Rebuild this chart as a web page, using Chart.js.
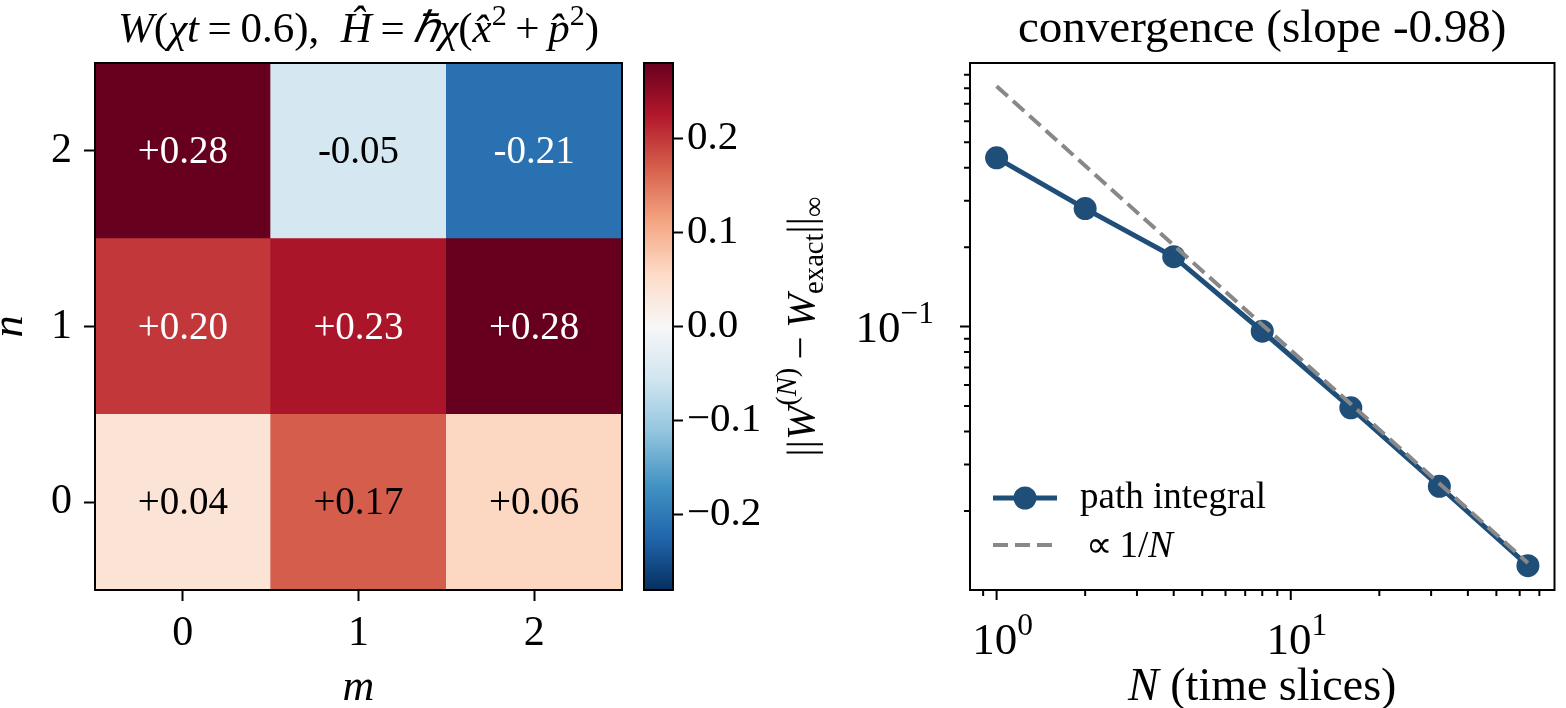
<!DOCTYPE html>
<html>
<head>
<meta charset="utf-8">
<script src="https://cdn.jsdelivr.net/npm/chart.js@4.4.1/dist/chart.umd.min.js"></script>
<style>
  body { margin: 0; background: #fff; width: 1566px; height: 708px; overflow: hidden; position: relative; }
  canvas { position: absolute; top: 0; }
</style>
</head>
<body>
<canvas id="heat" width="640" height="708" style="left:0"></canvas>
<canvas id="cbar" width="150" height="708" style="left:630px"></canvas>
<canvas id="conv" width="806" height="708" style="left:760px"></canvas>
<script>
// Wigner function grid, W[n][m]
const mLabels = ['0', '1', '2'];
const nLabels = [0, 1, 2];
const wRow0 = [0.04, 0.17, 0.06];
const wRow1 = [0.20, 0.23, 0.28];
const wRow2 = [0.28, -0.05, -0.21];
const wRows = [wRow0, wRow1, wRow2];
const vMax = 0.28;
const cbarTicks = [-0.2, -0.1, 0.0, 0.1, 0.2];

// convergence data
const sliceN = [1, 2, 4, 8, 16, 32, 64];
const errInf = [0.436, 0.280, 0.184, 0.0960, 0.0492, 0.0248, 0.0124];
const refN = [1, 64];
const refErr = [0.814, 0.0127];
const xMajor = [1, 10];
const xMinor = [0.9, 2, 3, 4, 5, 6, 7, 8, 9, 20, 30, 40, 50, 60, 70];
const yMajor = [0.1];
const yMinor = [0.02, 0.03, 0.04, 0.05, 0.06, 0.07, 0.08, 0.09, 0.2, 0.3, 0.4, 0.5, 0.6, 0.7, 0.8, 0.9];
const xLim = [0.812, 78.8];
const yLim = [0.01003, 0.998];

const FONT = '"Liberation Serif", serif';
Chart.defaults.font.family = FONT;
Chart.defaults.color = '#000';

// RdBu_r colormap
const RDBU_R = ['#053061', '#2166ac', '#4393c3', '#92c5de', '#d1e5f0', '#f7f7f7',
                '#fddbc7', '#f4a582', '#d6604d', '#b2182b', '#67001f'];
function hexRgb(h) { return [1, 3, 5].map(i => parseInt(h.substr(i, 2), 16)); }
function cmap(v) {
    let t = (v + vMax) / (2 * vMax);
    t = Math.max(0, Math.min(1, t)) * 10;
    const i = Math.min(9, Math.floor(t)), f = t - i;
    const a = hexRgb(RDBU_R[i]), b = hexRgb(RDBU_R[i + 1]);
    const c = a.map((x, k) => Math.round(x + (b[k] - x) * f));
    return `rgb(${c[0]},${c[1]},${c[2]})`;
}

// rich text: [text, italic, scale, rise(em)]
function fontOf(size, italic) { return (italic ? 'italic ' : '') + size + 'px ' + FONT; }
function richWidth(ctx, parts, size) {
    let w = 0;
    parts.forEach(p => { ctx.font = fontOf(size * (p[2] || 1), p[1]); w += ctx.measureText(p[0]).width; });
    return w;
}
function drawRich(ctx, parts, x, y, size, align) {
    const w = richWidth(ctx, parts, size);
    let cx = align === 'center' ? x - w / 2 : align === 'right' ? x - w : x;
    ctx.textAlign = 'left';
    ctx.textBaseline = 'alphabetic';
    parts.forEach(p => {
        ctx.font = fontOf(size * (p[2] || 1), p[1]);
        ctx.fillText(p[0], cx, y - (p[3] || 0) * size);
        cx += ctx.measureText(p[0]).width;
    });
}

// Heatmap
const heatPlugin = {
    id: 'heatText',
    afterDatasetsDraw(chart) {
        const { ctx, chartArea: a, scales: { x, y } } = chart;
        ctx.save();
        ctx.font = fontOf(39, false);
        ctx.textAlign = 'center';
        ctx.textBaseline = 'middle';
        wRows.forEach((row, n) => row.forEach((v, m) => {
            ctx.fillStyle = Math.abs(v) > 0.18 ? '#fff' : '#000';
            const s = (v >= 0 ? '+' : '-') + Math.abs(v).toFixed(2);
            ctx.fillText(s, x.getPixelForValue(m), y.getPixelForValue(n) + 2);
        }));
        ctx.strokeStyle = '#000';
        ctx.lineWidth = 2;
        ctx.strokeRect(a.left, a.top, a.right - a.left, a.bottom - a.top);
        ctx.fillStyle = '#000';
        const cx = (a.left + a.right) / 2;
        drawRich(ctx, [['W', 1], ['(', 0], ['χt', 1], ['\u2009=\u2009', 0], ['0.6),', 0], ['\u2002', 0],
            ['Ĥ', 1], ['\u2009=\u2009', 0], ['ℏχ', 1], ['(', 0], ['x̂', 1], ['2', 0, 0.7, 0.4],
            ['\u2009+\u2009', 0], ['p̂', 1], ['2', 0, 0.7, 0.4], [')', 0]], cx, 42, 43, 'center');
        drawRich(ctx, [['m', 1]], cx, 700, 44, 'center');
        ctx.translate(13, (a.top + a.bottom) / 2);
        ctx.rotate(-Math.PI / 2);
        drawRich(ctx, [['n', 1]], 0, 9, 44, 'center');
        ctx.restore();
    }
};

new Chart(document.getElementById('heat'), {
    type: 'bar',
    data: {
        labels: mLabels,
        datasets: wRows.map((row, n) => ({
            label: 'n = ' + n,
            data: row.map(() => [n - 0.5, n + 0.5]),
            backgroundColor: row.map(cmap),
            borderWidth: 0,
            borderSkipped: false,
            grouped: false,
            barPercentage: 1,
            categoryPercentage: 1
        }))
    },
    options: {
        responsive: false,
        animation: false,
        layout: { padding: { top: 63, right: 18, left: 0, bottom: 0 } },
        plugins: { legend: { display: false }, tooltip: { enabled: false } },
        scales: {
            x: {
                type: 'category',
                offset: true,
                grid: { offset: false, drawOnChartArea: false, tickLength: 11, tickWidth: 2, tickColor: '#000' },
                border: { display: false },
                ticks: { font: { size: 42 }, padding: 8, maxRotation: 0 },
                afterFit: s => { s.height = 118; }
            },
            y: {
                type: 'linear',
                min: -0.5,
                max: 2.5,
                afterBuildTicks: s => { s.ticks = nLabels.map(v => ({ value: v })); },
                grid: { drawOnChartArea: false, tickLength: 11, tickWidth: 2, tickColor: '#000' },
                border: { display: false },
                ticks: { font: { size: 42 }, padding: 12, callback: v => String(v) },
                afterFit: s => { s.width = 95; }
            }
        }
    },
    plugins: [heatPlugin]
});

// Colorbar
const framePlugin = {
    id: 'frame',
    afterDraw(chart) {
        const { ctx, chartArea: a } = chart;
        ctx.save();
        ctx.strokeStyle = '#000';
        ctx.lineWidth = 2;
        ctx.strokeRect(a.left, a.top, a.right - a.left, a.bottom - a.top);
        ctx.restore();
    }
};

new Chart(document.getElementById('cbar'), {
    type: 'bar',
    data: {
        labels: [''],
        datasets: [{
            data: [[-vMax, vMax]],
            backgroundColor: c => {
                const a = c.chart.chartArea;
                if (!a) return RDBU_R[5];
                const g = c.chart.ctx.createLinearGradient(0, a.bottom, 0, a.top);
                RDBU_R.forEach((col, k) => g.addColorStop(k / 10, col));
                return g;
            },
            borderWidth: 0,
            barPercentage: 1,
            categoryPercentage: 1
        }]
    },
    options: {
        responsive: false,
        animation: false,
        layout: { padding: { left: 14, top: 63, bottom: 118, right: 0 } },
        plugins: { legend: { display: false }, tooltip: { enabled: false } },
        scales: {
            x: { display: false },
            y: {
                position: 'right',
                min: -vMax,
                max: vMax,
                afterBuildTicks: s => { s.ticks = cbarTicks.map(v => ({ value: v })); },
                grid: { drawOnChartArea: false, tickLength: 10, tickWidth: 2, tickColor: '#000' },
                border: { display: false },
                ticks: {
                    font: { size: 41 },
                    padding: 4,
                    callback: v => (v < 0 ? '\u2212' : '') + Math.abs(v).toFixed(1)
                },
                afterFit: s => { s.width = 107; }
            }
        }
    },
    plugins: [framePlugin]
});

// Convergence plot
function expLabel(v) {
    const e = Math.round(Math.log10(v));
    return [['10', 0], [(e < 0 ? '\u2212' : '') + Math.abs(e), 0, 0.7, 0.42]];
}
const convPlugin = {
    id: 'convAxes',
    afterDraw(chart) {
        const { ctx, chartArea: a, scales: { x, y } } = chart;
        const ds = chart.data.datasets;
        ctx.save();
        ctx.strokeStyle = '#000';
        ctx.fillStyle = '#000';
        ctx.lineWidth = 2;
        ctx.beginPath();
        xMajor.concat(xMinor).forEach(v => {
            const px = x.getPixelForValue(v);
            if (px < a.left - 1 || px > a.right + 1) return;
            ctx.moveTo(px, a.bottom);
            ctx.lineTo(px, a.bottom + (xMajor.includes(v) ? 10 : 6));
        });
        yMajor.concat(yMinor).forEach(v => {
            const py = y.getPixelForValue(v);
            if (py < a.top - 1 || py > a.bottom + 1) return;
            ctx.moveTo(a.left, py);
            ctx.lineTo(a.left - (yMajor.includes(v) ? 10 : 6), py);
        });
        ctx.stroke();
        ctx.strokeRect(a.left, a.top, a.right - a.left, a.bottom - a.top);

        xMajor.forEach(v => drawRich(ctx, expLabel(v), x.getPixelForValue(v) + 6, 654, 45, 'center'));
        yMajor.forEach(v => drawRich(ctx, expLabel(v), a.left - 36, y.getPixelForValue(v) + 15, 45, 'right'));

        const cx = (a.left + a.right) / 2;
        drawRich(ctx, [['convergence (slope -0.98)', 0]], cx, 42, 47, 'center');
        drawRich(ctx, [['N', 1], [' (time slices)', 0]], cx, 700, 46, 'center');

        // legend
        const path = ds[1], ref = ds[0];
        const lx0 = a.left + 23, lx1 = a.left + 87, tx = a.left + 110;
        const ly0 = 498, ly1 = 545;
        ctx.strokeStyle = path.borderColor;
        ctx.lineWidth = path.borderWidth;
        ctx.beginPath(); ctx.moveTo(lx0, ly0); ctx.lineTo(lx1, ly0); ctx.stroke();
        ctx.fillStyle = path.pointBackgroundColor;
        ctx.beginPath(); ctx.arc((lx0 + lx1) / 2, ly0, path.pointRadius, 0, 2 * Math.PI); ctx.fill();
        ctx.strokeStyle = ref.borderColor;
        ctx.lineWidth = ref.borderWidth;
        ctx.setLineDash(ref.borderDash);
        ctx.beginPath(); ctx.moveTo(lx0, ly1); ctx.lineTo(lx1, ly1); ctx.stroke();
        ctx.setLineDash([]);
        ctx.fillStyle = '#000';
        drawRich(ctx, [[path.label, 0]], tx, ly0 + 10, 37, 'left');
        drawRich(ctx, [['∝\u2009', 0], ['1/', 0], ['N', 1]], tx + 6, ly1 + 12, 37, 'left');

        // y label
        ctx.translate(41, (a.top + a.bottom) / 2);
        ctx.rotate(-Math.PI / 2);
        drawRich(ctx, [['||', 0], ['W', 1], ['(', 0, 0.7, 0.45], ['N', 1, 0.7, 0.45], [')', 0, 0.7, 0.45],
            ['\u2009\u2212\u2009', 0], ['W', 1], ['exact', 0, 0.7, -0.22], ['||', 0], ['∞', 0, 0.7, -0.22]],
            0, 13, 41, 'center');
        ctx.restore();
    }
};

new Chart(document.getElementById('conv'), {
    type: 'scatter',
    data: {
        datasets: [
            {
                label: '∝1/N',
                data: refN.map((n, i) => ({ x: n, y: refErr[i] })),
                showLine: true,
                borderColor: '#888888',
                borderWidth: 4,
                borderDash: [15, 7],
                pointRadius: 0,
                order: 0
            },
            {
                label: 'path integral',
                data: sliceN.map((n, i) => ({ x: n, y: errInf[i] })),
                showLine: true,
                borderColor: '#1f4e79',
                borderWidth: 5,
                pointRadius: 11.5,
                pointBackgroundColor: '#1f4e79',
                pointBorderWidth: 0,
                order: 1
            }
        ]
    },
    options: {
        responsive: false,
        animation: false,
        layout: { padding: { top: 63, right: 2, left: 0, bottom: 0 } },
        plugins: { legend: { display: false }, tooltip: { enabled: false } },
        scales: {
            x: {
                type: 'logarithmic', min: xLim[0], max: xLim[1],
                ticks: { display: false }, grid: { display: false }, border: { display: false },
                afterFit: s => { s.height = 118; }
            },
            y: {
                type: 'logarithmic', min: yLim[0], max: yLim[1],
                ticks: { display: false }, grid: { display: false }, border: { display: false },
                afterFit: s => { s.width = 210; }
            }
        }
    },
    plugins: [convPlugin]
});
</script>
</body>
</html>
